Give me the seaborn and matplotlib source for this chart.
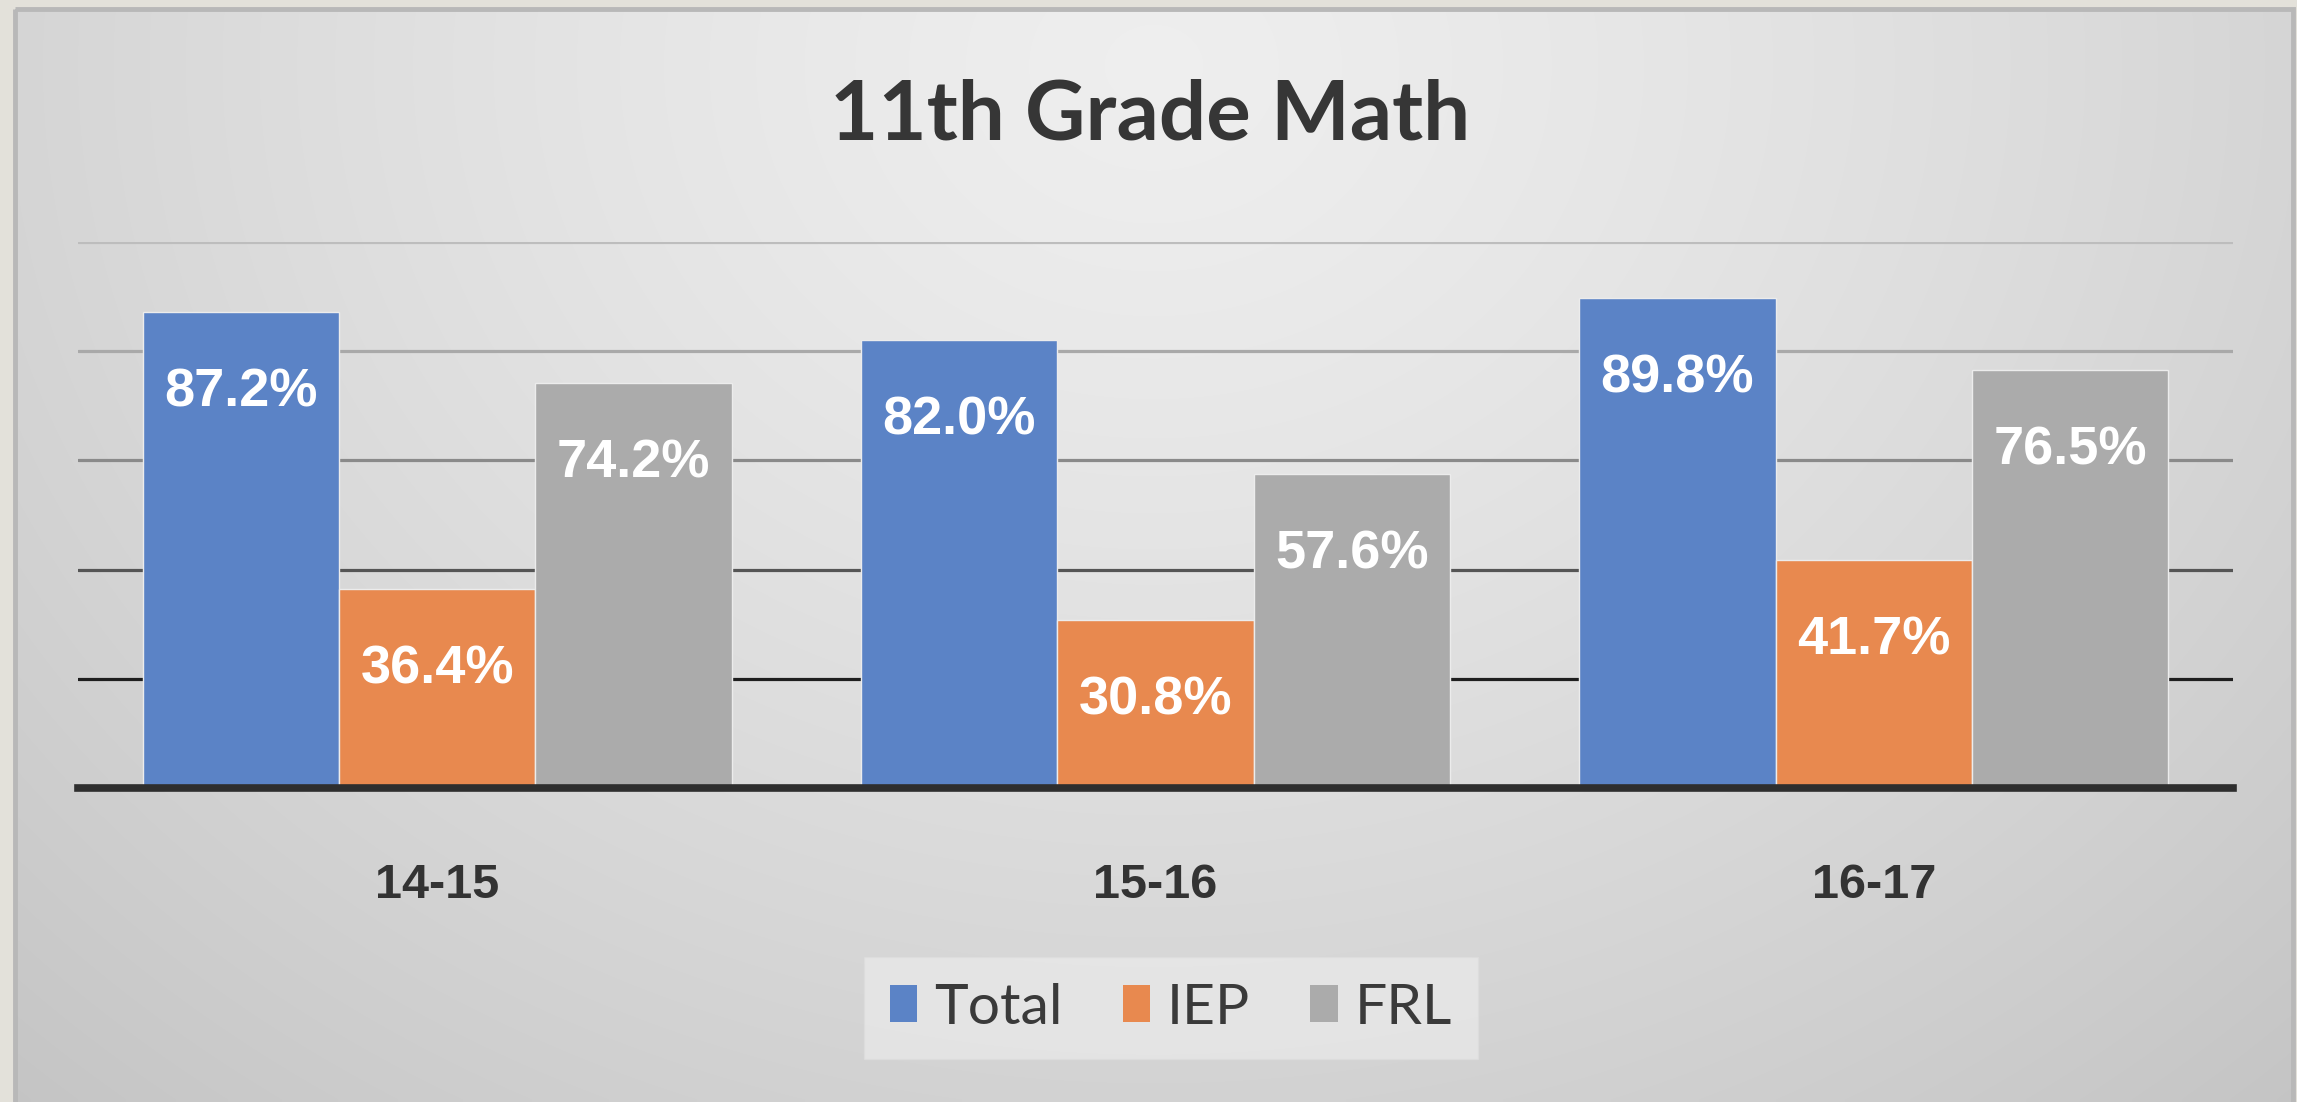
import numpy as np
import pandas as pd
import matplotlib
matplotlib.use("Agg")
import matplotlib.pyplot as plt
import seaborn as sns
from matplotlib.patches import Patch, Rectangle

# ---- data ----
years = ["14-15", "15-16", "16-17"]
series = ["Total", "IEP", "FRL"]
total = [87.2, 82.0, 89.8]
iep = [36.4, 30.8, 41.7]
frl = [74.2, 57.6, 76.5]
yticks = [20, 40, 60, 80, 100]
title = "11th Grade Math"

colors = ["#5b83c6", "#e8894f", "#ababab"]
grid_colors = ["#1e1e1e", "#555555", "#8a8a8a", "#a9a9a9", "#bdbdbd"]

df = pd.DataFrame({
    "year": years * 3,
    "series": ["Total"] * 3 + ["IEP"] * 3 + ["FRL"] * 3,
    "value": total + iep + frl,
})

sns.set_theme(style="white")
plt.rcParams["font.family"] = ["Liberation Sans", "DejaVu Sans"]

W, H = 2297, 1102
fig = plt.figure(figsize=(W / 100, H / 100), dpi=100)

# ---- background (slide panel with soft gradient) ----
bg = fig.add_axes([0, 0, 1, 1], zorder=-10)
bg.set_xlim(0, W)
bg.set_ylim(H, 0)
bg.axis("off")
bg.add_patch(Rectangle((0, 0), W, H, color="#e3e1da", zorder=0))
pl, pr, pt, pb = 15, 2293, 9, H
nx, ny = 400, 200
xx, yy = np.meshgrid(np.linspace(0, 1, nx), np.linspace(0, 1, ny))
r = np.sqrt(((xx - 0.5) / 0.6) ** 2 + ((yy - 0.05) / 1.05) ** 2)
v = np.clip(0.935 - 0.125 * r ** 1.3, 0, 1)
img = np.dstack([v, v, v])
bg.imshow(img, extent=(pl, pr, pb, pt), origin="upper", aspect="auto",
          interpolation="bilinear", zorder=1)
bg.add_patch(Rectangle((pl, pt), pr - pl, pb - pt + 10, fill=False,
                       ec="#b8b8b8", lw=3.5, zorder=2))

# ---- main axes ----
left, right, bottom, top = 78, 2233, 788, 242
ax = fig.add_axes([left / W, (H - bottom) / H, (right - left) / W, (bottom - top) / H])
ax.patch.set_alpha(0)

sns.barplot(data=df, x="year", y="value", hue="series", hue_order=series,
            palette=colors, saturation=1, width=0.82, ax=ax, legend=False,
            edgecolor="#ececec", linewidth=1.0, zorder=3)

ax.set_xlim(-0.5, 2.5)
ax.set_ylim(0, 100)
ax.set_yticks(yticks)
ax.set_yticklabels([])
ax.set_xlabel("")
ax.set_ylabel("")
ax.grid(axis="y", visible=True)
ax.grid(axis="x", visible=False)
ax.set_axisbelow(True)
for line, c in zip(ax.yaxis.get_gridlines(), grid_colors):
    line.set_color(c)
    line.set_linewidth(2.3)
for s in ["left", "right", "top"]:
    ax.spines[s].set_visible(False)
ax.spines["bottom"].set_color("#2e2e2e")
ax.spines["bottom"].set_linewidth(5.5)
ax.spines["bottom"].set_zorder(5)
ax.tick_params(axis="both", length=0)
ax.tick_params(axis="x", pad=54)
for lab in ax.get_xticklabels():
    lab.set_fontsize(35)
    lab.set_fontweight("bold")
    lab.set_color("#333333")

# ---- data labels ----
for cont in ax.containers:
    for bar in cont:
        h = bar.get_height()
        ax.annotate(f"{h:.1f}%", (bar.get_x() + bar.get_width() / 2, h),
                    xytext=(0, -58), textcoords="offset points",
                    ha="center", va="center", fontsize=39, fontweight="bold",
                    color="white", zorder=6)

# ---- title ----
fig.text(1150 / W, 1 - 116 / H, title, ha="center", va="center",
         fontsize=60, fontweight="bold", family=["Lato", "DejaVu Sans"],
         color="#363636")

# ---- legend ----
handles = [Patch(facecolor=c, edgecolor="none") for c in colors]
leg = fig.legend(handles, series, loc="center", bbox_to_anchor=(1171 / W, 1 - 1008 / H),
                 ncol=3, frameon=True, fancybox=False,
                 prop={"family": ["Lato", "DejaVu Sans"], "size": 41},
                 handlelength=0.48, handleheight=0.62, handletextpad=0.3,
                 columnspacing=1.05, borderpad=0.45,
                 facecolor="#ebebeb", edgecolor="#dddddd", framealpha=0.7)
for t in leg.get_texts():
    t.set_color("#3a3a3a")

fig.savefig("out.png", dpi=100)
